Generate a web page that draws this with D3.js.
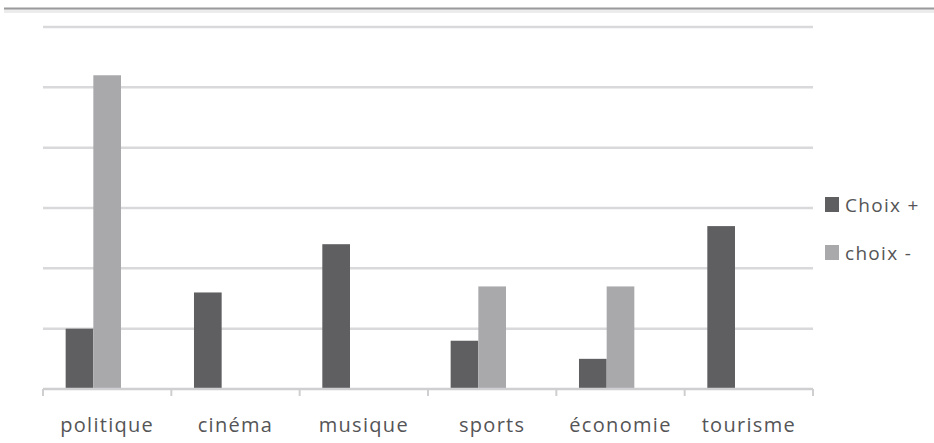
<!DOCTYPE html>
<html>
<head>
<meta charset="utf-8">
<script src="https://d3js.org/d3.v7.min.js"></script>
<style>
    body { margin: 0; background: #ffffff; }
    svg { display: block; }
    .label { font-family: "Open Sans", sans-serif; fill: #555557; }
</style>
</head>
<body>
<svg width="934" height="443"></svg>
<script>
// chart data
var categories = ["politique", "cinéma", "musique", "sports", "économie", "tourisme"];
var choixPlus = [1.0, 1.6, 2.4, 0.8, 0.5, 2.7];
var choixMoins = [5.2, 0, 0, 1.7, 1.7, 0];
var seriesNames = ["Choix +", "choix -"];
var seriesColors = ["#5f5f62", "#a9a9ac"];
// third slot is an empty series in the original sheet
var slots = ["plus", "moins", "vide"];
var yTicks = [0, 1, 2, 3, 4, 5, 6];

var svg = d3.select("svg"),
    margin = {
        top: 27,
        right: 121,
        bottom: 54,
        left: 43
    },
    width = +svg.attr("width") - margin.left - margin.right,
    height = +svg.attr("height") - margin.top - margin.bottom;

// frame line at the very top of the picture
svg.append("rect")
    .attr("x", 4)
    .attr("y", 9)
    .attr("width", 930)
    .attr("height", 4)
    .attr("fill", "#ececec");
svg.append("line")
    .attr("x1", 4)
    .attr("x2", 934)
    .attr("y1", 8.5)
    .attr("y2", 8.5)
    .attr("stroke", "#9a9a9c")
    .attr("stroke-width", 2);

var g = svg.append("g")
    .attr("transform", "translate(" + margin.left + "," + margin.top + ")");

var x0 = d3.scaleBand()
    .domain(categories)
    .range([0, width])
    .paddingInner(0.353)
    .paddingOuter(0.1765);

var x1 = d3.scaleBand()
    .domain(slots)
    .range([0, x0.bandwidth()]);

var y = d3.scaleLinear()
    .domain([0, 6])
    .range([height, 0]);

// gridlines
g.selectAll(".grid")
    .data(yTicks.slice(1))
    .enter().append("line")
    .attr("class", "grid")
    .attr("x1", 0)
    .attr("x2", width)
    .attr("y1", function(d) { return y(d); })
    .attr("y2", function(d) { return y(d); })
    .attr("stroke", "#d9d9db")
    .attr("stroke-width", 2.5);

// bars
var rows = categories.map(function(c, i) {
    return { cat: c, values: [choixPlus[i], choixMoins[i]] };
});

var groups = g.selectAll(".group")
    .data(rows)
    .enter().append("g")
    .attr("class", "group")
    .attr("transform", function(d) { return "translate(" + x0(d.cat) + ",0)"; });

groups.selectAll("rect")
    .data(function(d) {
        return d.values.map(function(v, j) { return { slot: slots[j], value: v, j: j }; });
    })
    .enter().append("rect")
    .attr("x", function(d) { return x1(d.slot); })
    .attr("y", function(d) { return y(d.value); })
    .attr("width", x1.bandwidth())
    .attr("height", function(d) { return height - y(d.value); })
    .attr("fill", function(d) { return seriesColors[d.j]; });

// x axis with category boundary ticks
var xAxisG = g.append("g")
    .attr("transform", "translate(0," + height + ")");

xAxisG.append("line")
    .attr("x1", 0)
    .attr("x2", width)
    .attr("y1", 0)
    .attr("y2", 0)
    .attr("stroke", "#cfcfd1")
    .attr("stroke-width", 2.5);

var bounds = categories.map(function(c) { return x0(c) - x0.step() * x0.paddingInner() / 2; });
bounds.push(width);

xAxisG.selectAll(".tick")
    .data(bounds)
    .enter().append("line")
    .attr("class", "tick")
    .attr("x1", function(d) { return d; })
    .attr("x2", function(d) { return d; })
    .attr("y1", 0)
    .attr("y2", 7)
    .attr("stroke", "#cfcfd1")
    .attr("stroke-width", 2);

xAxisG.selectAll(".label")
    .data(categories)
    .enter().append("text")
    .attr("class", "label")
    .attr("x", function(d) { return x0(d) + x0.bandwidth() / 2; })
    .attr("y", 43)
    .attr("text-anchor", "middle")
    .style("font-size", "20px")
    .style("letter-spacing", "1.3px")
    .text(function(d) { return d; });

// legend
var legend = svg.append("g")
    .attr("transform", "translate(825,197)");

var items = legend.selectAll(".item")
    .data(seriesNames)
    .enter().append("g")
    .attr("class", "item")
    .attr("transform", function(d, i) { return "translate(0," + (i * 48) + ")"; });

items.append("rect")
    .attr("width", 14)
    .attr("height", 15)
    .attr("fill", function(d, i) { return seriesColors[i]; });

items.append("text")
    .attr("class", "label")
    .attr("x", 20)
    .attr("y", 15)
    .style("font-size", "19px")
    .style("letter-spacing", "1.3px")
    .text(function(d) { return d; });
</script>
</body>
</html>
